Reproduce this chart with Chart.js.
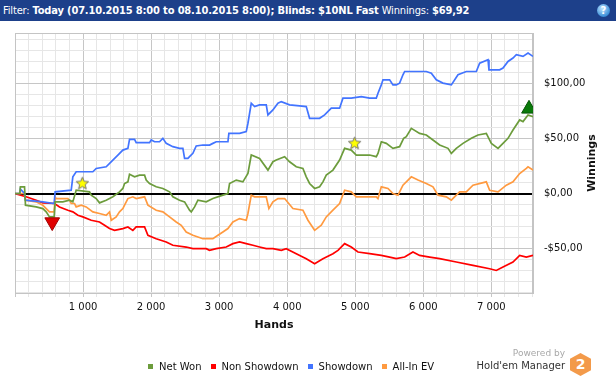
<!DOCTYPE html>
<html>
<head>
<meta charset="utf-8">
<script src="https://cdn.jsdelivr.net/npm/chart.js@4.4.0/dist/chart.umd.min.js"></script>
<style>
  body { margin: 0; width: 616px; height: 380px; overflow: hidden; background: #fff; position: relative; font-family: "DejaVu Sans", sans-serif; }
  #wrap { position: absolute; left: 0; top: 0; width: 616px; height: 380px; }
  #header { position: absolute; left: 0; top: 0; width: 616px; height: 21px; background: #1d408a; color: #fff;
            font-family: "DejaVu Sans Condensed", "DejaVu Sans", sans-serif; font-size: 11px; line-height: 21px; letter-spacing: -0.15px;
            padding-left: 3px; box-sizing: border-box; white-space: nowrap; z-index: 2; }
  #header b { font-weight: bold; }
  #help { position: absolute; right: 6px; top: 4px; width: 13px; height: 13px; border-radius: 50%;
          background: radial-gradient(circle at 40% 35%, #bfe4ff, #3b8fd8 70%); color: #fff; font: bold 10px "DejaVu Sans";
          text-align: center; line-height: 13px; letter-spacing: 0; }
  #legend { position: absolute; left: 148px; top: 361px; display: flex; gap: 9px; font-size: 10px; color: #111; z-index: 2; }
  #legend span.item { display: flex; align-items: center; white-space: nowrap; }
  #legend i { display: inline-block; width: 5px; height: 5px; margin-right: 6px; }
  #logo { position: absolute; right: 51px; top: 348px; text-align: right; z-index: 2; }
  #logo .pw { font-size: 9px; color: #a8a8a8; line-height: 11px; }
  #logo .hm { font-size: 10px; color: #333; line-height: 13px; }
  #hex { position: absolute; left: 570px; top: 353px; width: 21px; height: 23px; background: #f39a4a;
         clip-path: polygon(50% 0, 100% 25%, 100% 75%, 50% 100%, 0 75%, 0 25%);
         color: #fff; font: bold 14px "DejaVu Sans"; text-align: center; line-height: 23px; z-index: 2; }
</style>
</head>
<body>
<div id="header">Filter: <b>Today (07.10.2015 8:00 to 08.10.2015 8:00); Blinds: $10NL Fast</b> Winnings: <b>$69,92</b><div id="help">?</div></div>
<div id="wrap"><canvas id="chart" width="616" height="380"></canvas></div>
<div id="legend"></div>
<div id="logo"><div class="pw">Powered by</div><div class="hm">Hold'em Manager</div></div>
<div id="hex">2</div>
<script>
// series names and colours
const seriesNames = ['Net Won', 'Non Showdown', 'Showdown', 'All-In EV'];
const seriesColors = ['#6c9c3c', '#ff0000', '#4274ff', '#ff9a40'];

// values (hands, $)
const netWonHands = [0,70,79,140,154,311,409,458,507,575,590,703,801,850,899,1095,1120,1193,1242,1340,1389,1438,1536,1585,1610,1659,1683,1757,1830,1904,1928,1977,2075,2173,2271,2320,2418,2492,2565,2590,2639,2688,2810,2908,3055,3129,3153,3251,3349,3423,3472,3594,3717,3790,3839,3962,4035,4133,4231,4280,4329,4403,4476,4525,4574,4672,4770,4844,4941,5015,5113,5211,5309,5334,5383,5456,5554,5652,5711,5750,5824,5946,6044,6142,6240,6363,6412,6485,6583,6706,6804,6926,7000,7098,7171,7245,7318,7416,7465,7539,7612];
const netWonValues = [0,0,6.1,6.1,-10.6,-12.2,-13.7,-16.7,-21.3,-21.3,-7.6,-7.6,-6.1,-7.6,3,1.5,-1.5,-4.6,-8.5,-6.1,-4.6,-3,1.5,4.6,9.1,10.6,17.6,15.2,16.7,16.7,12.2,9.1,6.1,4.6,1.5,-3,-6.1,-7.6,-15.2,-16.7,-12.2,-6.1,-7.6,-4.6,-1.5,0,9.1,12.2,10.6,18.2,35,31.9,21.3,28.9,30.4,33.5,28.9,24.3,22.8,15.2,9.1,4.6,6.1,10.6,16.7,21.3,30.4,41.1,39.5,35,35,35,33.5,36.5,47.1,45.6,41.1,42.6,50.2,51.7,59.3,54.7,53.2,48.7,44.1,41.1,36.5,41.1,45.6,50.2,53.2,54.7,45.6,41.1,45.6,50.2,57.8,66.9,65.4,71.5,69.9];

const nonShowdownHands = [0,164,311,409,581,654,777,850,924,997,1120,1242,1316,1389,1463,1585,1659,1732,1781,1904,1953,2075,2222,2320,2516,2614,2810,2859,2957,3104,3202,3300,3398,3496,3594,3692,3790,3913,3986,4133,4280,4403,4525,4672,4746,4844,4941,5040,5211,5383,5505,5603,5726,5848,5946,6093,6240,6485,6730,6975,7073,7171,7318,7416,7514,7612];
const nonShowdownValues = [0,-3,-6.1,-8.5,-9.1,-12.2,-15.2,-16.7,-19.8,-21.3,-24.3,-25.9,-28.9,-31.9,-33.5,-31.9,-30.4,-33.5,-30.4,-30.4,-38,-41.1,-44.1,-47.1,-48.7,-50.2,-50.2,-51.7,-50.2,-48.7,-45.6,-44.1,-45.6,-47.1,-48.7,-50.2,-50.2,-51.7,-50.2,-54.7,-59.3,-63.9,-59.3,-54.7,-51.7,-45.6,-48.7,-53.2,-54.7,-56.3,-57.8,-59.3,-57.8,-53.2,-56.3,-57.8,-59.3,-62.3,-65.4,-68.4,-70,-66.9,-62.3,-56.3,-57.8,-56.3];

const showdownHands = [0,70,79,140,154,409,575,590,826,850,899,1144,1193,1340,1438,1512,1585,1659,1683,1757,1781,1977,2002,2051,2124,2173,2222,2320,2418,2467,2492,2541,2565,2614,2663,2761,2859,2908,2957,3129,3143,3300,3398,3423,3472,3521,3594,3692,3717,3790,3864,3913,4035,4182,4280,4329,4476,4550,4648,4770,4819,4941,5089,5211,5309,5334,5383,5407,5505,5554,5603,5652,5701,5726,5848,6044,6118,6191,6289,6412,6510,6632,6779,6828,6951,6965,7122,7171,7245,7318,7367,7465,7539,7612];
const showdownValues = [0,0,4,0,-6,-7.6,-9.1,1.5,3,15.2,19.8,19.8,22.8,24.3,30.4,35,39.5,41.1,49.3,49.3,46.2,46.2,48.7,47.1,47.1,50.2,45.6,42.6,41.1,41.1,31.9,31.9,33.5,36.5,43.2,44.1,44.1,45.6,47.1,47.1,54.7,54.7,56.3,63.9,82.1,79.1,80.6,80.6,71.5,76,82.1,83.6,80.6,79.7,79.1,68.4,68.4,71.5,77.6,77.6,86.7,86.7,88.2,86.7,86.7,91.2,98.8,103.4,103.4,98.8,98.8,100.4,108,111,111,111,109.5,103.4,100.4,98.8,108,111,111,118.6,121.7,112.5,112.5,114.1,120.1,123.2,126.2,124.7,127.7,124.7];

const allInEvHands = [0,140,154,311,409,458,507,575,590,605,777,801,826,875,899,973,1046,1144,1242,1340,1389,1414,1487,1536,1585,1610,1659,1732,1781,1904,1953,2075,2173,2271,2369,2443,2516,2614,2688,2761,2908,2982,3055,3129,3202,3300,3398,3423,3472,3521,3692,3731,3790,3864,3962,4084,4231,4305,4403,4501,4574,4672,4770,4844,4941,5015,5113,5309,5334,5383,5481,5554,5628,5701,5824,5922,6044,6142,6216,6338,6412,6485,6534,6632,6730,6926,6975,7098,7220,7318,7416,7514,7539,7612];
const allInEvValues = [0,0,-6.1,-7.6,-10.6,-13.7,-16.7,-16.7,-3,-4.6,-4.6,-6.1,-9.1,-9.1,-12.2,-10.6,-12.2,-16.7,-18.2,-19.8,-16.7,-24.3,-21.3,-16.7,-13.7,-10.6,-4.6,-3,-4.6,-3,-10.6,-15.2,-16.7,-21.3,-25.9,-28.9,-35,-38,-39.5,-41.1,-41.1,-38,-35,-31.9,-25.9,-22.8,-24.3,-18.2,-1.5,-3,-3,-13.7,-7.6,-4.6,-4.6,-13.7,-15.2,-24.3,-33.5,-28.9,-21.3,-15.2,-9.1,3,1.5,-3,-3,-3,-4.6,6.1,4.6,0,-1.5,7.6,15.2,12.2,9.1,6.1,-1.5,-3,-6.1,-1.5,1.5,1.5,7.6,10.6,3,1.5,7.6,10.6,18.2,22.8,24.3,21.3];

// markers on the chart
const starHands = [990, 4990];
const starValues = [9.7, 46.2];
const lowHands = [547];
const lowValues = [-26];
const highHands = [7553];
const highValues = [77];

// axis ticks: hands every 200 (labelled every 1000), $ every 10 (labelled every 50)
const handTicks = [];
for (let h = 0; h <= 7600; h += 200) handTicks.push(h);
const moneyTicks = [];
for (let m = -90; m <= 140; m += 10) moneyTicks.push(m);

function pairs(xs, ys) {
  const n = Math.min(xs.length, ys.length);
  const out = [];
  for (let i = 0; i < n; i++) out.push({ x: xs[i], y: ys[i] });
  return out;
}

function makeStar(size) {
  const c = document.createElement('canvas');
  c.width = size; c.height = size;
  const g = c.getContext('2d');
  const cx = size / 2, cy = size / 2 + 0.8, ro = size / 2 - 1, ri = ro * 0.45;
  g.beginPath();
  for (let i = 0; i < 10; i++) {
    const r = i % 2 ? ri : ro;
    const a = -Math.PI / 2 + i * Math.PI / 5;
    g.lineTo(cx + r * Math.cos(a), cy + r * Math.sin(a));
  }
  g.closePath();
  g.fillStyle = '#ffff00';
  g.fill();
  g.strokeStyle = '#707070';
  g.lineWidth = 1;
  g.stroke();
  return c;
}

function money(v) {
  return (v < 0 ? '-$' : '$') + Math.abs(v) + ',00';
}

function handsLabel(v) {
  return String(v).replace(/\B(?=(\d{3})+$)/g, ' ');
}

// legend
const legend = document.getElementById('legend');
seriesNames.forEach((n, i) => {
  const s = document.createElement('span');
  s.className = 'item';
  s.innerHTML = `<i style="background:${seriesColors[i]}"></i>${n}`;
  legend.appendChild(s);
});

// frame + y title (reads bottom-to-top)
const framePlugin = {
  id: 'frame',
  beforeDatasetsDraw(chart) {
    const { ctx, chartArea: a } = chart;
    ctx.save();
    ctx.strokeStyle = '#c4c4c4';
    ctx.lineWidth = 1;
    ctx.strokeRect(a.left + 0.5, a.top + 0.5, a.right - a.left - 1, a.bottom - a.top);
    ctx.restore();
  },
  afterDraw(chart) {
    const { ctx, chartArea: a } = chart;
    ctx.save();
    ctx.translate(592, (a.top + a.bottom) / 2);
    ctx.rotate(-Math.PI / 2);
    ctx.font = 'bold 11px "DejaVu Sans"';
    ctx.fillStyle = '#111';
    ctx.textAlign = 'center';
    ctx.textBaseline = 'middle';
    ctx.fillText('Winnings', 0, 0);
    ctx.restore();
  }
};

const lineDs = (i, xs, ys) => ({
  label: seriesNames[i],
  data: pairs(xs, ys),
  borderColor: seriesColors[i],
  borderWidth: 1.7,
  pointRadius: 0,
  tension: 0,
  fill: false
});

Chart.defaults.font.family = '"DejaVu Sans", sans-serif';
Chart.defaults.font.size = 10;
Chart.defaults.color = '#111';

new Chart(document.getElementById('chart'), {
  type: 'line',
  data: {
    datasets: [
      { label: 'star', data: pairs(starHands, starValues), pointStyle: makeStar(15), pointRadius: 7, showLine: false, order: 0 },
      { label: 'low', data: pairs(lowHands, lowValues), pointStyle: 'triangle', rotation: 180, pointRadius: 8.5,
        backgroundColor: '#e00000', borderColor: '#a00000', borderWidth: 1, showLine: false, order: 0 },
      { label: 'high', data: pairs(highHands, highValues), pointStyle: 'triangle', pointRadius: 8.5,
        backgroundColor: '#0a7a0a', borderColor: '#055505', borderWidth: 1, showLine: false, order: 0 },
      Object.assign(lineDs(0, netWonHands, netWonValues), { order: 1 }),
      Object.assign(lineDs(2, showdownHands, showdownValues), { order: 2 }),
      Object.assign(lineDs(3, allInEvHands, allInEvValues), { order: 3 }),
      Object.assign(lineDs(1, nonShowdownHands, nonShowdownValues), { order: 4 })
    ]
  },
  options: {
    responsive: false,
    animation: false,
    devicePixelRatio: 1,
    layout: { padding: { left: 15, top: 33, right: 0, bottom: 48 } },
    plugins: { legend: { display: false }, tooltip: { enabled: false } },
    scales: {
      x: {
        type: 'linear',
        position: 'bottom',
        min: 0,
        max: 7612,
        afterBuildTicks: s => { s.ticks = handTicks.map(v => ({ value: v })); },
        afterFit: s => { s.height = 39; },
        ticks: {
          autoSkip: false,
          maxRotation: 0,
          padding: 4,
          callback: v => (v > 0 && v % 1000 === 0) ? handsLabel(v) : ''
        },
        grid: {
          color: c => (c.tick && c.tick.value % 1000 === 0) ? '#c6c6c6' : '#e6e6e6',
          tickLength: 4
        },
        border: { color: '#c4c4c4' },
        title: { display: true, text: 'Hands', font: { weight: 'bold', size: 11 }, padding: 0 }
      },
      y: {
        position: 'right',
        min: -90.5,
        max: 146,
        afterBuildTicks: s => { s.ticks = moneyTicks.map(v => ({ value: v })); },
        afterFit: s => { s.width = 83; },
        ticks: {
          autoSkip: false,
          padding: 11,
          callback: v => (v % 50 === 0) ? money(v) : ''
        },
        grid: {
          drawTicks: false,
          color: c => {
            const v = c.tick ? c.tick.value : 1;
            if (v === 0) return '#000';
            return v % 50 === 0 ? '#c6c6c6' : '#e6e6e6';
          },
          lineWidth: c => (c.tick && c.tick.value === 0) ? 2 : 1
        },
        border: { color: '#c4c4c4' }
      }
    }
  },
  plugins: [framePlugin]
});
</script>
</body>
</html>
